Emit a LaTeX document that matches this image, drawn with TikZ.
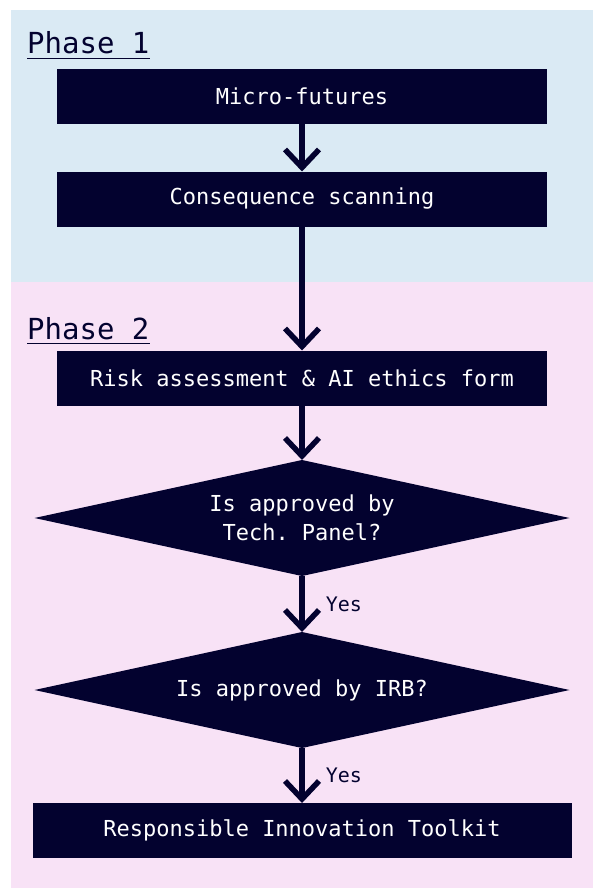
\documentclass[tikz,border=0pt]{standalone}
\usepackage{fontspec}
\setmonofont{DejaVu Sans Mono}
\usetikzlibrary{shapes.geometric,arrows.meta}
\definecolor{navy}{HTML}{03022F}
\definecolor{bluebg}{HTML}{DAEAF4}
\definecolor{pinkbg}{HTML}{F8E2F6}
\begin{document}
\begin{tikzpicture}[x=1pt,y=1pt,
  box/.style={fill=navy, text=white, minimum width=490pt, minimum height=55pt, inner sep=0pt, outer sep=0pt, font=\ttfamily\fontsize{22}{28}\selectfont},
  dec/.style={diamond, shape aspect=4.6, fill=navy, text=white, minimum width=535pt, minimum height=116pt, inner sep=0pt, outer sep=0pt, align=center, font=\ttfamily\fontsize{22}{28.5}\selectfont},
  conn/.style={draw=navy, line width=5.5pt, -{Straight Barb[length=18pt,width=34pt]}},
  phase/.style={text=navy, anchor=base west, inner sep=0pt, font=\ttfamily\fontsize{29}{34}\selectfont},
  yes/.style={text=navy, anchor=base west, inner sep=0pt, xshift=21pt, font=\ttfamily\fontsize{20}{24}\selectfont},
  uline/.style={draw=navy, line width=1.8pt}]
\useasboundingbox (0,0) rectangle (593,-888);
\fill[bluebg] (11,-10) rectangle (593,-282);
\fill[pinkbg] (11,-282) rectangle (593,-888);
\node[phase] (p1) at (27,-54) {Phase 1};
\draw[uline] ([yshift=-4.5pt]p1.base west) -- ([yshift=-4.5pt]p1.base east);
\node[phase] (p2) at (27,-339) {Phase 2};
\draw[uline] ([yshift=-4.5pt]p2.base west) -- ([yshift=-4.5pt]p2.base east);
\node[box] (mf) at (302,-96.5) {Micro-futures};
\node[box] (cs) at (302,-199) {Consequence scanning};
\node[box] (ra) at (302,-378) {Risk assessment \& AI ethics form};
\node[dec] (d1) at (302,-518) {Is approved by\\Tech. Panel?};
\node[dec] (d2) at (302,-690) {Is approved by IRB?};
\node[box, minimum width=539pt] (tk) at (302,-830.5) {Responsible Innovation Toolkit};
\draw[conn] (mf) -- (cs);
\draw[conn] (cs) -- (ra);
\draw[conn] (ra) -- (d1);
\draw[conn] (d1) -- (d2) node[yes, pos=0.625] {Yes};
\draw[conn] (d2) -- (tk) node[yes, pos=0.62] {Yes};
\end{tikzpicture}
\end{document}
